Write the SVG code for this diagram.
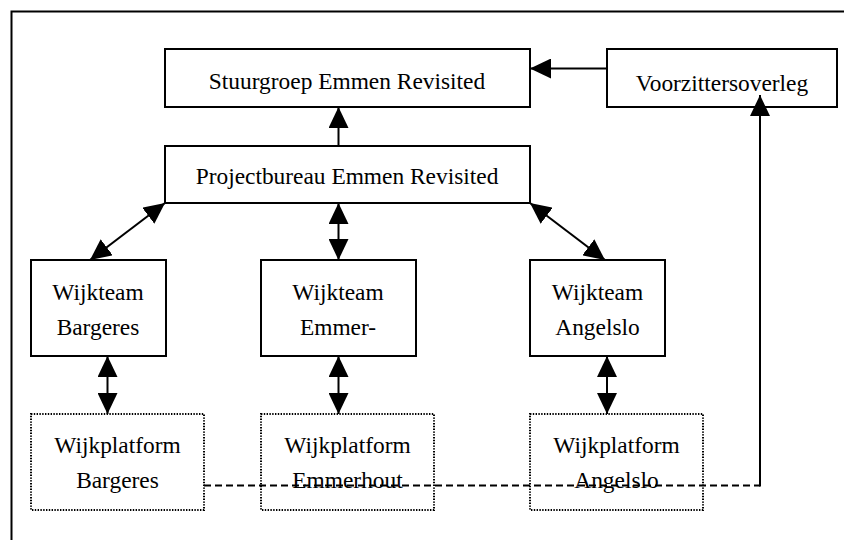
<svg xmlns="http://www.w3.org/2000/svg" width="844" height="540" viewBox="0 0 844 540">
<defs>
<style>
.box{fill:#fff;stroke:#000;stroke-width:2}
.dot{fill:#fff;stroke:#000;stroke-width:2;stroke-dasharray:1.4 1.4}
.t{font-family:"Liberation Serif","Times New Roman",serif;font-size:23.4px;fill:#000;text-anchor:middle}
.c{fill:none;stroke:#000;stroke-width:2}
.a{marker-end:url(#ah)}
.b{marker-start:url(#ah);marker-end:url(#ah)}
.d{fill:none;stroke:#000;stroke-width:2;stroke-dasharray:7 4}
</style>
<marker id="ah" markerUnits="userSpaceOnUse" markerWidth="21" markerHeight="20" refX="21" refY="10" orient="auto-start-reverse" viewBox="0 0 21 20">
<path d="M0,0 L21,10 L0,20 z" fill="#000"/>
</marker>
</defs>
<rect width="844" height="540" fill="#fff"/>
<path d="M11.5,540 V11.5 H844" fill="none" stroke="#000" stroke-width="2"/>

<g id="stuurgroep">
<rect class="box" x="165" y="49" width="365" height="58"/>
<text class="t" x="347" y="89">Stuurgroep Emmen Revisited</text>
</g>
<g id="voorzittersoverleg">
<rect class="box" x="607" y="49" width="230" height="58"/>
<text class="t" x="722" y="91">Voorzittersoverleg</text>
</g>
<g id="projectbureau">
<rect class="box" x="165" y="146" width="365" height="57"/>
<text class="t" x="347" y="184">Projectbureau Emmen Revisited</text>
</g>
<g id="wijkteam-bargeres">
<rect class="box" x="31" y="260" width="135" height="96"/>
<text class="t" x="98" y="300">Wijkteam</text>
<text class="t" x="98" y="335">Bargeres</text>
</g>
<g id="wijkteam-emmer">
<rect class="box" x="261" y="260" width="155" height="96"/>
<text class="t" x="338" y="300">Wijkteam</text>
<text class="t" x="338" y="335">Emmer-</text>
</g>
<g id="wijkteam-angelslo">
<rect class="box" x="530" y="260" width="135" height="96"/>
<text class="t" x="597.5" y="300">Wijkteam</text>
<text class="t" x="597.5" y="335">Angelslo</text>
</g>
<g id="wijkplatform-bargeres">
<rect class="dot" x="31" y="414" width="173" height="96"/>
<text class="t" x="117.5" y="453">Wijkplatform</text>
<text class="t" x="117.5" y="488">Bargeres</text>
</g>
<g id="wijkplatform-emmerhout">
<rect class="dot" x="261" y="414" width="173" height="96"/>
<text class="t" x="347.5" y="453">Wijkplatform</text>
<text class="t" x="347.5" y="488">Emmerhout</text>
</g>
<g id="wijkplatform-angelslo">
<rect class="dot" x="530" y="414" width="173" height="96"/>
<text class="t" x="616.5" y="453">Wijkplatform</text>
<text class="t" x="616.5" y="488">Angelslo</text>
</g>

<g id="connectors">
<line class="c a" x1="338.5" y1="146" x2="338.5" y2="107"/>
<line class="c a" x1="607" y1="68.5" x2="530" y2="68.5"/>
<line class="c b" x1="90" y1="260" x2="165" y2="203"/>
<line class="c b" x1="338.5" y1="260" x2="338.5" y2="203"/>
<line class="c b" x1="605" y1="260" x2="530" y2="203"/>
<line class="c b" x1="107.5" y1="414" x2="107.5" y2="356"/>
<line class="c b" x1="338.5" y1="414" x2="338.5" y2="356"/>
<line class="c b" x1="607" y1="414" x2="607" y2="356"/>
<line class="d" x1="204" y1="485.5" x2="760" y2="485.5"/>
<line class="c a" x1="760" y1="486.5" x2="760" y2="95"/>
</g>
</svg>
